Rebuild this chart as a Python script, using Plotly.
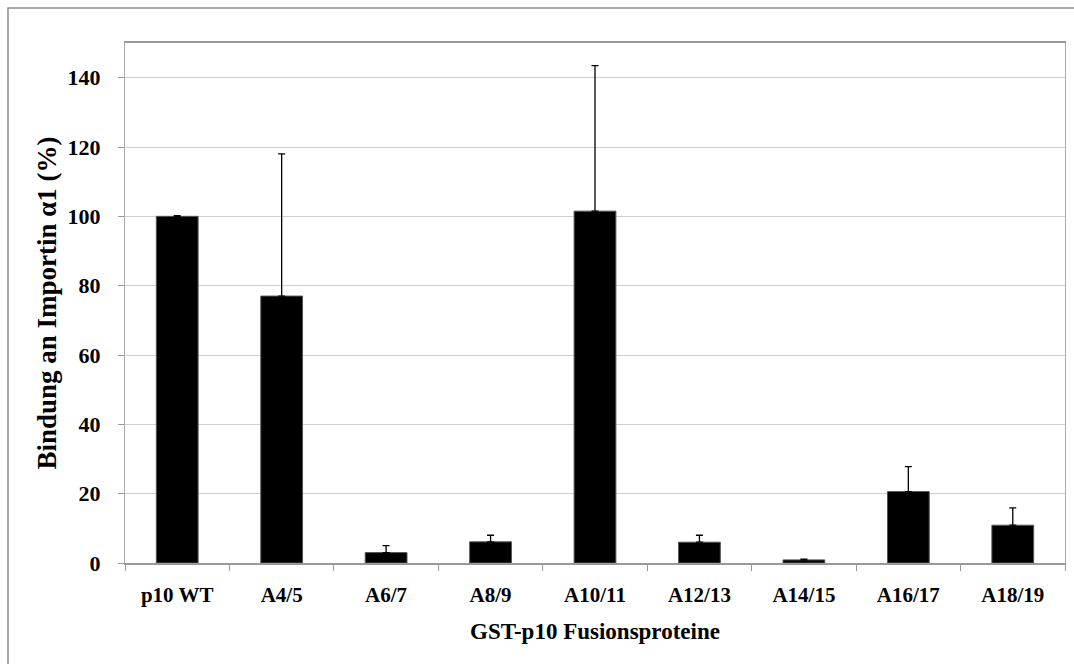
import plotly.graph_objects as go

categories = ["p10 WT", "A4/5", "A6/7", "A8/9", "A10/11", "A12/13", "A14/15", "A16/17", "A18/19"]
values = [100.0, 77.0, 3.0, 6.1, 101.5, 6.0, 0.9, 20.6, 10.9]
error_up = [0.2, 41.0, 2.0, 1.9, 42.0, 2.0, 0.2, 7.2, 5.0]
y_ticks = [0, 20, 40, 60, 80, 100, 120, 140]

FONT = "Liberation Serif"

fig = go.Figure()
fig.add_trace(go.Bar(
    x=categories, y=values, width=0.4,
    marker=dict(color="black", line=dict(color="#555555", width=1)),
    error_y=dict(type="data", symmetric=False, array=error_up,
                 arrayminus=[0] * len(values), color="black",
                 thickness=1.3, width=3.5),
))

L, R, T, B = 125, 9, 43, 101
W, H = 1074 - L - R, 664 - T - B

fig.update_layout(
    width=1074, height=664,
    margin=dict(l=L, r=R, t=T, b=B),
    paper_bgcolor="white", plot_bgcolor="white",
    showlegend=False,
    font=dict(family=FONT, color="black"),
    xaxis=dict(
        tickson="boundaries", ticks="outside", ticklen=6, tickcolor="#999999",
        showline=True, linecolor="#999999", linewidth=1.5, mirror=True,
        showgrid=False, ticklabelstandoff=12,
        tickfont=dict(family=FONT, size=21, color="black", weight="bold"),
        title=dict(text="<b>GST-p10 Fusionsproteine</b>", standoff=17,
                   font=dict(family=FONT, size=23, color="black")),
    ),
    yaxis=dict(
        range=[0, 150], tickvals=y_ticks, ticks="outside", ticklen=6,
        tickcolor="#999999", ticklabelstandoff=13,
        showline=True, linecolor="#aaaaaa", linewidth=1, mirror=True,
        showgrid=True, gridcolor="#d0d0d0", gridwidth=1, zeroline=False,
        tickfont=dict(family=FONT, size=22, color="black", weight="bold"),
        title=dict(text="<b>Bindung an Importin α1 (%)</b>", standoff=3,
                   font=dict(family=FONT, size=27, color="black")),
    ),
    shapes=[dict(
        type="rect", xref="paper", yref="paper", layer="below",
        x0=(8 - L) / W, x1=(1090 - L) / W,
        y0=-(B + 20) / H, y1=1 + (T - 8) / H,
        line=dict(color="#8c8c8c", width=1.5), fillcolor="rgba(0,0,0,0)",
    )],
)

fig.write_html("out.html", config={"displayModeBar": False},
               post_script="document.body.style.margin='0';document.body.style.overflow='hidden';")
